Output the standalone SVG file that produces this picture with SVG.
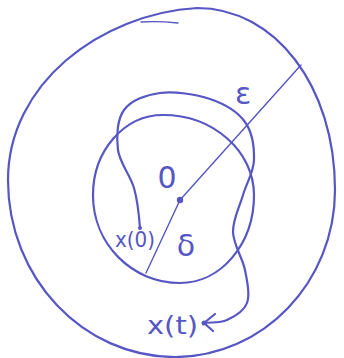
<svg xmlns="http://www.w3.org/2000/svg" width="344" height="358" viewBox="0 0 344 358">
<style>
.ink{fill:none;stroke:#5656c4;stroke-linecap:round;stroke-linejoin:round}
.thick{stroke-width:2.2}
.thin{stroke-width:1.4}
.lbl{fill:#5656c4;font-family:"DejaVu Sans",sans-serif}
.dot{fill:#5656c4}
</style>
<rect width="344" height="358" fill="#ffffff"/>
<g id="outer-ball">
<path class="ink thick" d="M197,8 C275,8 335,86 335,190 C335,282 263,357 175,357 C83,357 8,278 8,180 C8,84 100,14 197,8 Z"/>
<path class="ink thin" d="M141,22 C155,21 168,22 178,23"/>
<text class="lbl" x="243" y="104" font-size="30" text-anchor="middle">ε</text>
</g>
<g id="inner-ball">
<path class="ink thick" d="M163,115 C213,115 254,151 254,195 C254,244 221,283 180,283 C132,283 93,244 93,195 C93,151 124,115 163,115 Z"/>
<text class="lbl" x="186" y="256" font-size="30" text-anchor="middle">δ</text>
</g>
<g id="origin">
<circle class="dot" cx="180" cy="200" r="3.2"/>
<text class="lbl" x="167" y="188" font-size="30" text-anchor="middle">0</text>
</g>
<g id="x0">
<circle class="dot" cx="140" cy="228" r="2"/>
<text class="lbl" x="115" y="247" font-size="22" textLength="40" lengthAdjust="spacingAndGlyphs">x(0)</text>
</g>
<g id="xt">
<circle class="dot" cx="204" cy="323" r="2.5"/>
<text class="lbl" x="147" y="334" font-size="24" textLength="51" lengthAdjust="spacingAndGlyphs">x(t)</text>
</g>
<g id="connectors">
<path class="ink thin" d="M146,273 L180,200 L301,65"/>
<path class="ink thick" d="M140,228 C139,215 137.7,201 134,188 C130.3,175 119.7,163 118,150 C116.3,137 117,119.5 124,110 C131,100.5 145.7,94.8 160,93 C174.3,91.2 195.8,94.2 210,99 C224.2,103.8 237.7,111.8 245,122 C252.3,132.2 254.3,147.8 254,160 C253.7,172.2 246.5,183 243,195 C239.5,207 232.7,219.5 233,232 C233.3,244.5 242.7,258.2 245,270 C247.3,281.8 250,294.7 247,303 C244,311.3 234.2,316.7 227,320 C219.8,323.3 211.7,322 204,323"/>
<path class="ink thick" d="M215,314 L204,323 L213,331"/>
</g>
</svg>
